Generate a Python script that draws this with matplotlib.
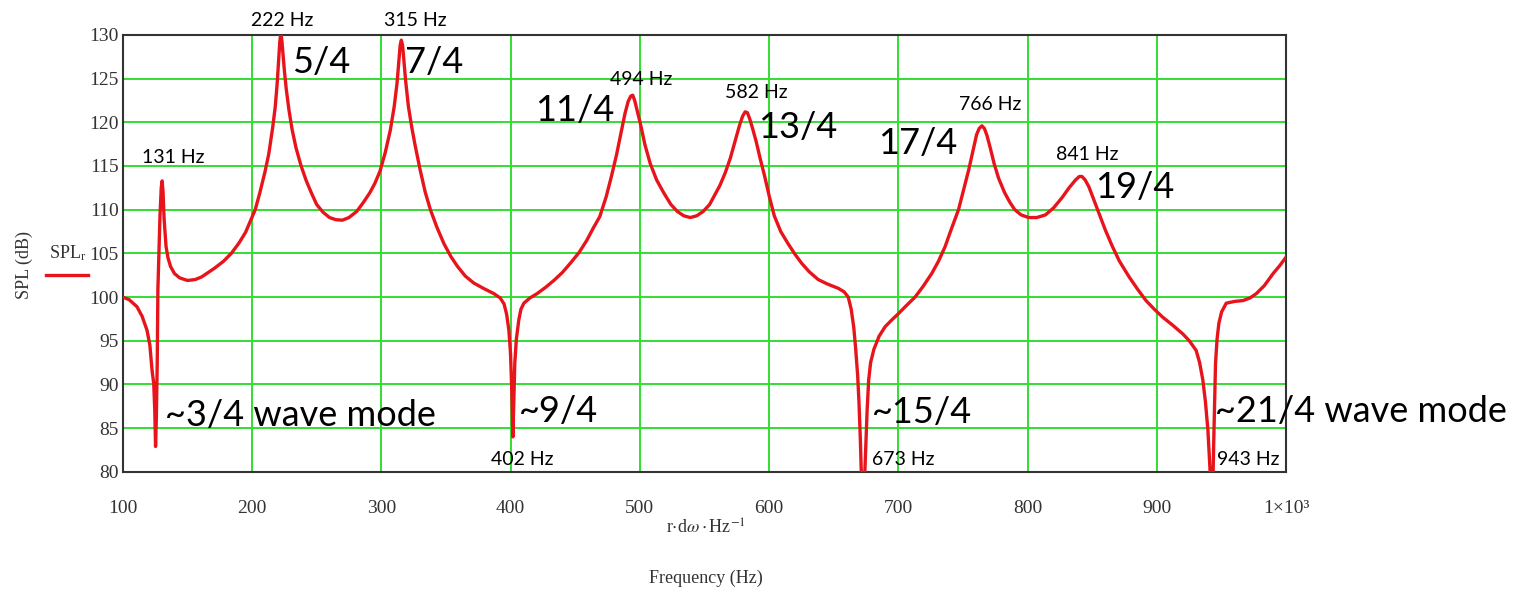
import matplotlib
matplotlib.use("Agg")
from matplotlib import pyplot as plt

# traced SPL response (Hz, dB)
freq = [100, 105, 111, 115, 118.8, 121, 122.7, 124, 124.8, 125.4, 126, 126.7, 127.2, 128, 128.8,
        129.8, 130.5, 131.2, 132, 133.5, 135, 137, 140, 144, 150, 156, 161, 166, 171, 178, 184,
        190, 195, 199, 202.5, 206, 210, 213, 216, 218, 219.5, 220.7, 221.5, 222.3, 223.2, 224,
        225, 226.5, 228.6, 231, 234, 238, 242, 246, 250, 255, 260, 265, 270, 275, 281, 286, 291,
        295, 299, 303, 307, 310, 312.2, 313.6, 314.6, 315.5, 316.5, 317.5, 318.8, 321, 323.5,
        326, 330, 334, 338, 343, 348.5, 354, 359, 365, 371.6, 379, 387, 392, 395, 397, 398.7,
        400, 401, 401.8, 402.5, 403.3, 404.5, 406.4, 408, 410.3, 415, 420.6, 427, 433.5, 440,
        446.4, 453, 459, 464, 469, 474, 478, 482, 485.5, 488.5, 491, 493, 494.5, 496, 498,
        500.5, 504, 508, 513, 518.6, 524, 529, 534, 539, 544, 549, 554, 558, 562, 566, 570, 574,
        577, 579.5, 581.5, 583.2, 585, 587, 590, 593, 596.6, 600, 604, 609, 614.7, 620, 625,
        631, 638, 645, 653.5, 658, 661.2, 663.5, 665.5, 667, 668.5, 669.5, 670.5, 671.5, 673.8,
        674.8, 675.8, 677, 678.5, 681, 685, 689.7, 695, 700, 706, 712.9, 719, 725.8, 731, 736.2,
        741, 746.5, 750.5, 754.3, 757.5, 760.5, 762.5, 764.6, 766.5, 768.5, 771, 774, 777.5,
        782, 786, 790, 795, 800.8, 807, 813.7, 820, 826.7, 832, 837, 840, 842, 844.5, 847.4,
        851, 855.2, 860, 865.5, 871, 878.5, 885, 891.5, 898, 904.4, 912, 919.9, 925, 930.3,
        933, 935.5, 937.5, 939.4, 940.8, 941.5, 943.3, 944, 944.8, 945.3, 946.5, 947.9, 950,
        953.6, 960, 966.6, 972, 976.9, 983, 989.9, 995, 1000]
spl = [100, 99.7, 98.9, 97.8, 96.2, 94.5, 91.6, 90.1, 87, 82.9, 86, 92.4, 100.8, 105, 109.2,
       112.5, 113.3, 112, 109, 105.8, 104.5, 103.5, 102.7, 102.2, 101.9, 102, 102.3, 102.8,
       103.3, 104.1, 105, 106.2, 107.4, 108.8, 110, 111.9, 114.3, 116.4, 119.4, 121.8, 124.5,
       127.3, 129.2, 130.3, 129.2, 127.8, 126, 123.8, 121.4, 119.2, 117.1, 115, 113.3, 111.9,
       110.6, 109.7, 109.1, 108.85, 108.8, 109.1, 109.8, 110.8, 111.9, 113, 114.4, 116.5,
       119.1, 121.8, 124.5, 127, 128.8, 129.4, 128.8, 127, 124.8, 121.8, 119.5, 117.5, 114.6,
       112, 110, 108, 106.1, 104.6, 103.5, 102.4, 101.6, 101, 100.4, 99.9, 99.2, 98, 96.2,
       93.5, 89, 84, 88, 92.5, 95.2, 97.4, 98.6, 99.3, 99.9, 100.4, 101.1, 101.9, 102.8,
       103.9, 105.1, 106.5, 107.9, 109.2, 111.5, 113.8, 116.3, 118.8, 121, 122.4, 123, 123.1,
       122.5, 121.3, 119.8, 117.4, 115.3, 113.4, 111.9, 110.6, 109.8, 109.3, 109.1, 109.3,
       109.8, 110.6, 111.7, 112.8, 114.2, 115.9, 118, 119.6, 120.7, 121.2, 121.1, 120.4,
       119.4, 117.8, 115.9, 113.8, 111.6, 109.3, 107.5, 106.1, 104.9, 103.9, 102.9, 102,
       101.5, 101, 100.6, 100, 98.6, 96.5, 94, 91, 88, 84, 79, 79, 83, 87, 90.5, 92.5, 94,
       95.5, 96.6, 97.4, 98.1, 99, 100, 101.2, 102.7, 104.1, 105.8, 107.8, 110, 112.3, 114.5,
       116.6, 118.6, 119.3, 119.6, 119.3, 118.5, 117.1, 115.3, 113.6, 112, 110.9, 110, 109.4,
       109.1, 109.1, 109.4, 110.2, 111.4, 112.5, 113.4, 113.8, 113.8, 113.4, 112.6, 111.2,
       109.6, 107.7, 105.8, 104.1, 102.3, 100.9, 99.6, 98.6, 97.7, 96.8, 95.8, 95, 93.9,
       92.5, 90.5, 88, 84.8, 81, 79, 79, 84, 89, 92.4, 95.2, 97, 98.3, 99.3, 99.5, 99.6,
       99.9, 100.4, 101.3, 102.7, 103.6, 104.6]

x_ticks = [100, 200, 300, 400, 500, 600, 700, 800, 900, 1000]
x_ticklabels = ['100', '200', '300', '400', '500', '600', '700', '800', '900', '1×10³']
y_ticks = [80, 85, 90, 95, 100, 105, 110, 115, 120, 125, 130]

# (text, x, y) small frequency labels, centred
hz_labels = [('131 Hz', 139, 116.0), ('222 Hz', 223, 131.7), ('315 Hz', 326, 131.7),
             ('494 Hz', 501, 124.9), ('582 Hz', 590, 123.4), ('766 Hz', 771, 122.0),
             ('841 Hz', 846, 116.3), ('402 Hz', 409, 81.4), ('673 Hz', 704, 81.4),
             ('943 Hz', 971, 81.4)]
# (text, x_left, y) big mode labels
mode_labels = [('5/4', 231, 126.9), ('7/4', 318, 126.9), ('11/4', 419, 121.4),
               ('13/4', 591.5, 119.4), ('17/4', 684.5, 117.6), ('19/4', 852.3, 112.5),
               ('~3/4 wave mode', 132.7, 86.5), ('~9/4', 406.8, 86.9),
               ('~15/4', 679.7, 86.8), ('~21/4 wave mode', 945.2, 86.9)]

plt.rcParams['mathtext.fontset'] = 'stix'
serif = 'Liberation Serif'
sans = 'Lato'

fig = plt.figure(figsize=(15.15, 5.92), dpi=100)
ax = fig.add_axes([0.081, 0.203, 0.768, 0.738])

ax.plot(freq, spl, color='#e8141b', lw=2.4, zorder=3)
ax.set_xlim(100, 1000)
ax.set_ylim(80, 130)
ax.set_xticks(x_ticks)
ax.set_xticklabels(x_ticklabels, family=serif, fontsize=14, color='#333333')
ax.set_yticks(y_ticks)
ax.set_yticklabels([str(v) for v in y_ticks], family=serif, fontsize=14, color='#333333')
ax.tick_params(axis='x', length=0, pad=20)
ax.tick_params(axis='y', length=0, pad=3)
ax.grid(True, color='#33dd33', lw=1.4, zorder=1)
ax.set_axisbelow(True)
for s in ax.spines.values():
    s.set_color('#333333')
    s.set_linewidth(1.5)

for t, x, y in hz_labels:
    ax.text(x, y, t, ha='center', va='center', family=sans, fontsize=14,
            color='black', clip_on=False, zorder=4)
for t, x, y in mode_labels:
    ax.text(x, y, t, ha='left', va='center', family=sans, fontsize=26,
            color='black', clip_on=False, zorder=4)

# axis labels and legend in figure pixels
W, H = 1515, 592
fig.text(24 / W, 1 - 265 / H, 'SPL (dB)', rotation=90, ha='center', va='center',
         family=serif, fontsize=13, color='#333333')
fig.text(68 / W, 1 - 253 / H, r'SPL$_\mathregular{r}$', ha='center', va='center',
         family=serif, fontsize=13, color='#333333')
fig.add_artist(plt.Line2D([46 / W, 88 / W], [1 - 275 / H, 1 - 275 / H], color='#e8141b', lw=2.4))
fig.text(706 / W, 1 - 528 / H, r'r$\cdot$d$\omega\cdot$Hz$^{-1}$', ha='center', va='center',
         family=serif, fontsize=13, color='#333333')
fig.text(706 / W, 1 - 578 / H, 'Frequency (Hz)', ha='center', va='center',
         family=serif, fontsize=13, color='#333333')

fig.savefig('out.png', dpi=100)
